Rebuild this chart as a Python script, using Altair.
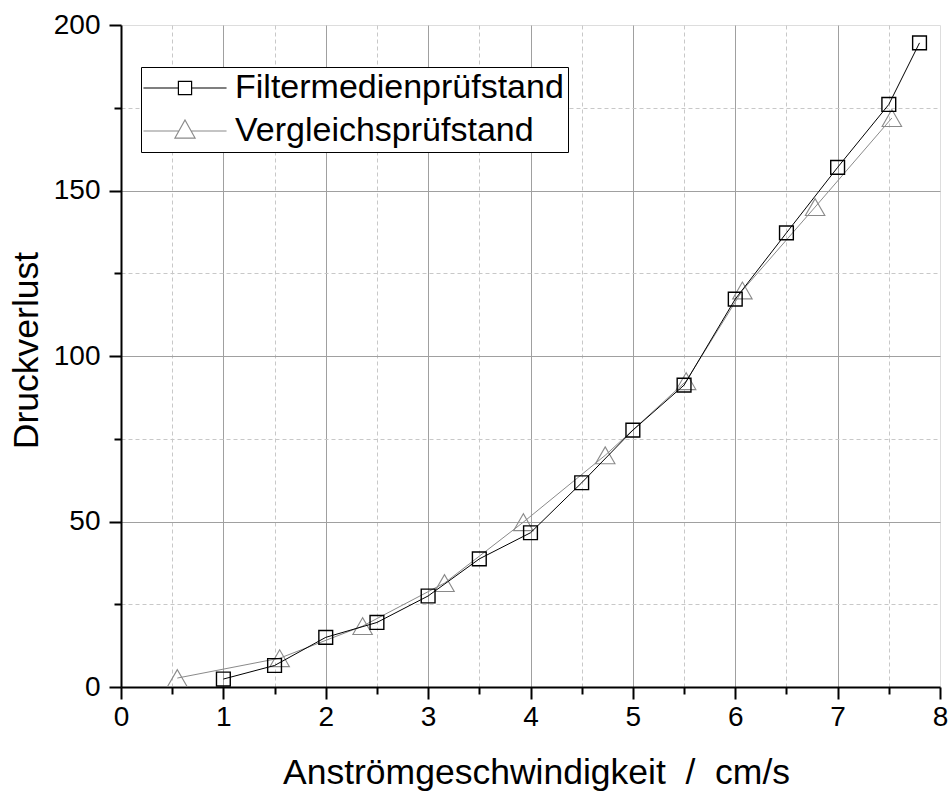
import altair as alt
import pandas as pd

# ---- data ----
series_names = ["Filtermedienprüfstand", "Vergleichsprüfstand"]

filter_x = [1.0, 1.5, 2.0, 2.5, 3.0, 3.5, 4.0, 4.5, 5.0, 5.5, 6.0, 6.5, 7.0, 7.5, 7.8]
filter_y = [2.4, 6.5, 15.0, 19.5, 27.5, 38.7, 46.6, 61.7, 77.6, 91.2, 117.2, 137.2, 157.0, 176.0, 194.6]

verg_x = [0.55, 1.55, 2.36, 3.16, 3.93, 4.73, 5.52, 6.07, 6.78, 7.53]
verg_y = [2.7, 8.7, 18.4, 31.4, 49.8, 70.0, 92.4, 119.8, 145.0, 171.9]

x_major = [0, 1, 2, 3, 4, 5, 6, 7, 8]
x_minor = [0.5, 1.5, 2.5, 3.5, 4.5, 5.5, 6.5, 7.5]
y_major = [0, 50, 100, 150, 200]
y_minor = [25, 75, 125, 175]

x_title = "Anströmgeschwindigkeit\u00a0\u00a0/\u00a0\u00a0cm/s"
y_title = "Druckverlust"

series_colors = ["#000000", "#8a8a8a"]
legend_paths = [
    "M-2.77,0H-0.44M0.44,0H2.77M-0.44,-0.44H0.44V0.44H-0.44Z",
    "M-2.77,0H-0.41M0.41,0H2.77M0,-0.73L0.67,0.47L-0.67,0.47Z",
]

df_f = pd.DataFrame({"v": filter_x, "dp": filter_y, "series": series_names[0]})
df_v = pd.DataFrame({"v": verg_x, "dp": verg_y, "series": series_names[1]})
df_all = pd.concat([df_f, df_v], ignore_index=True)

FONT = "Liberation Sans"

xs = alt.Scale(domain=[0, 8], nice=False, zero=False)
ys = alt.Scale(domain=[0, 200], nice=False, zero=False)

ax_x_major = alt.Axis(
    orient="bottom",
    values=x_major, format="d", title=x_title, tickSize=12, tickWidth=2, tickColor="black",
    domainColor="black", domainWidth=2, labelFont=FONT, labelFontSize=28, labelColor="black",
    labelFontWeight="normal",
    labelPadding=4, labelFlush=False, labelOverlap=False,
    grid=True, gridColor="#a0a0a0", gridWidth=1,
    gridOpacity={"condition": {"test": "datum.value == 0 || datum.value == 8", "value": 0}, "value": 1},
    titleFont=FONT, titleFontSize=35.5, titleFontWeight="normal", titleColor="black",
    titleBaseline="alphabetic", titleAlign="center", titleX=415, titleY=96,
)
ax_y_major = alt.Axis(
    orient="left",
    values=y_major, format="d", title=y_title, tickSize=12, tickWidth=2, tickColor="black",
    domainColor="black", domainWidth=2, labelFont=FONT, labelFontSize=28, labelColor="black",
    labelFontWeight="normal",
    labelPadding=9, labelFlush=False, labelOverlap=False,
    grid=True, gridColor="#a0a0a0", gridWidth=1,
    gridOpacity={"condition": {"test": "datum.value == 0 || datum.value == 200", "value": 0}, "value": 1},
    titleFont=FONT, titleFontSize=35.5, titleFontWeight="normal", titleColor="black",
    titleBaseline="alphabetic", titleAlign="center", titleAngle=-90, titleX=-84, titleY=325,
)
ax_x_minor = alt.Axis(
    orient="bottom",
    values=x_minor, labels=False, domain=False, title=None, tickSize=7, tickWidth=2,
    tickColor="black", grid=True, gridColor="#c8c8c8", gridDash=[4, 3], gridWidth=1,
)
ax_y_minor = alt.Axis(
    orient="left",
    values=y_minor, labels=False, domain=False, title=None, tickSize=7, tickWidth=2,
    tickColor="black", grid=True, gridColor="#c8c8c8", gridDash=[4, 3], gridWidth=1,
)

legend_props = dict(
    title=None, orient="none", legendX=20, legendY=42, padding=4,
    strokeColor="black", fillColor="white", labelFont=FONT, labelFontSize=34,
    labelFontWeight="normal",
    labelColor="black", labelLimit=800, rowPadding=9, symbolOffset=23, labelOffset=33,
    symbolSize=900, symbolStrokeWidth=1.2, symbolFillColor="transparent", symbolOpacity=1,
)

# layer carrying minor axes + legend (no visible marks)
legend_layer = alt.Chart(df_all).transform_filter("false").mark_point(filled=False, opacity=1).encode(
    x=alt.X("v:Q", scale=xs, axis=ax_x_minor),
    y=alt.Y("dp:Q", scale=ys, axis=ax_y_minor),
    color=alt.Color("series:N", scale=alt.Scale(domain=series_names, range=series_colors),
                    legend=alt.Legend(**legend_props)),
    shape=alt.Shape("series:N", scale=alt.Scale(domain=series_names, range=legend_paths),
                    legend=alt.Legend(**legend_props)),
)

def series_layers(df, color, shape, size, sw, axes):
    axx = ax_x_major if axes else None
    axy = ax_y_major if axes else None
    line = alt.Chart(df).mark_line(color=color, strokeWidth=1).encode(
        x=alt.X("v:Q", scale=xs, axis=axx),
        y=alt.Y("dp:Q", scale=ys, axis=axy),
        order="v:Q",
    )
    pts = alt.Chart(df).mark_point(shape=shape, filled=False, color=color, size=size,
                                   strokeWidth=sw, opacity=1).encode(
        x=alt.X("v:Q", scale=xs, axis=None),
        y=alt.Y("dp:Q", scale=ys, axis=None),
    )
    return line, pts

lv, pv = series_layers(df_v, series_colors[1], "triangle-up", 380, 1.1, True)
lf, pf = series_layers(df_f, series_colors[0], "square", 190, 1.4, False)

chart = alt.layer(legend_layer, lv, pv, lf, pf).resolve_axis(
    x="independent", y="independent"
).properties(
    width=819, height=662,
    autosize=alt.AutoSizeParams(type="none"),
    padding={"left": 121, "top": 25, "right": 12, "bottom": 107},
).configure_view(stroke=None).configure(background="white")

chart.save("out.html", embed_options={"renderer": "svg", "actions": False})
